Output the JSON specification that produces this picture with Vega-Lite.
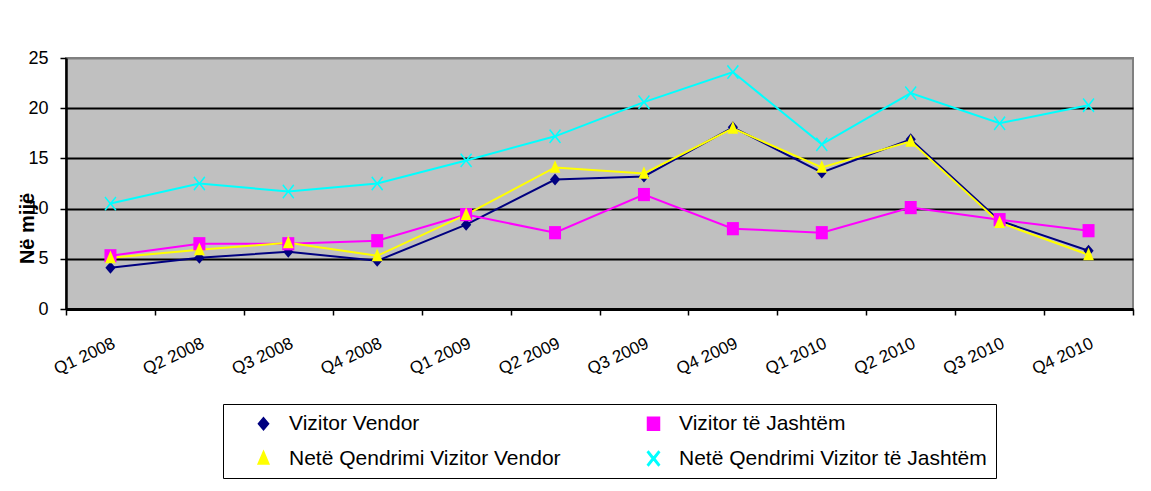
{
  "$schema": "https://vega.github.io/schema/vega-lite/v6.json",
  "width": 1067,
  "height": 251,
  "autosize": {"type": "none"},
  "padding": {"left": 66, "top": 58, "right": 18, "bottom": 182},
  "background": "white",
  "config": {"view": {"fill": "#C0C0C0", "stroke": "#808080", "strokeWidth": 2}, "font": "Liberation Sans"},
  "data": {"values": [
    {"q": "Q1 2008", "s": "Vizitor Vendor", "v": 4.1},
    {"q": "Q2 2008", "s": "Vizitor Vendor", "v": 5.1},
    {"q": "Q3 2008", "s": "Vizitor Vendor", "v": 5.7},
    {"q": "Q4 2008", "s": "Vizitor Vendor", "v": 4.8},
    {"q": "Q1 2009", "s": "Vizitor Vendor", "v": 8.4},
    {"q": "Q2 2009", "s": "Vizitor Vendor", "v": 12.9},
    {"q": "Q3 2009", "s": "Vizitor Vendor", "v": 13.2},
    {"q": "Q4 2009", "s": "Vizitor Vendor", "v": 18.1},
    {"q": "Q1 2010", "s": "Vizitor Vendor", "v": 13.6},
    {"q": "Q2 2010", "s": "Vizitor Vendor", "v": 16.9},
    {"q": "Q3 2010", "s": "Vizitor Vendor", "v": 8.8},
    {"q": "Q4 2010", "s": "Vizitor Vendor", "v": 5.8},
    {"q": "Q1 2008", "s": "Vizitor të Jashtëm", "v": 5.3},
    {"q": "Q2 2008", "s": "Vizitor të Jashtëm", "v": 6.5},
    {"q": "Q3 2008", "s": "Vizitor të Jashtëm", "v": 6.5},
    {"q": "Q4 2008", "s": "Vizitor të Jashtëm", "v": 6.8},
    {"q": "Q1 2009", "s": "Vizitor të Jashtëm", "v": 9.4},
    {"q": "Q2 2009", "s": "Vizitor të Jashtëm", "v": 7.6},
    {"q": "Q3 2009", "s": "Vizitor të Jashtëm", "v": 11.4},
    {"q": "Q4 2009", "s": "Vizitor të Jashtëm", "v": 8.0},
    {"q": "Q1 2010", "s": "Vizitor të Jashtëm", "v": 7.6},
    {"q": "Q2 2010", "s": "Vizitor të Jashtëm", "v": 10.1},
    {"q": "Q3 2010", "s": "Vizitor të Jashtëm", "v": 8.9},
    {"q": "Q4 2010", "s": "Vizitor të Jashtëm", "v": 7.8},
    {"q": "Q1 2008", "s": "Netë Qendrimi Vizitor Vendor", "v": 5.1},
    {"q": "Q2 2008", "s": "Netë Qendrimi Vizitor Vendor", "v": 5.9},
    {"q": "Q3 2008", "s": "Netë Qendrimi Vizitor Vendor", "v": 6.6},
    {"q": "Q4 2008", "s": "Netë Qendrimi Vizitor Vendor", "v": 5.3},
    {"q": "Q1 2009", "s": "Netë Qendrimi Vizitor Vendor", "v": 9.4},
    {"q": "Q2 2009", "s": "Netë Qendrimi Vizitor Vendor", "v": 14.1},
    {"q": "Q3 2009", "s": "Netë Qendrimi Vizitor Vendor", "v": 13.5},
    {"q": "Q4 2009", "s": "Netë Qendrimi Vizitor Vendor", "v": 18.0},
    {"q": "Q1 2010", "s": "Netë Qendrimi Vizitor Vendor", "v": 14.1},
    {"q": "Q2 2010", "s": "Netë Qendrimi Vizitor Vendor", "v": 16.7},
    {"q": "Q3 2010", "s": "Netë Qendrimi Vizitor Vendor", "v": 8.6},
    {"q": "Q4 2010", "s": "Netë Qendrimi Vizitor Vendor", "v": 5.4},
    {"q": "Q1 2008", "s": "Netë Qendrimi Vizitor të Jashtëm", "v": 10.5},
    {"q": "Q2 2008", "s": "Netë Qendrimi Vizitor të Jashtëm", "v": 12.5},
    {"q": "Q3 2008", "s": "Netë Qendrimi Vizitor të Jashtëm", "v": 11.7},
    {"q": "Q4 2008", "s": "Netë Qendrimi Vizitor të Jashtëm", "v": 12.5},
    {"q": "Q1 2009", "s": "Netë Qendrimi Vizitor të Jashtëm", "v": 14.8},
    {"q": "Q2 2009", "s": "Netë Qendrimi Vizitor të Jashtëm", "v": 17.2},
    {"q": "Q3 2009", "s": "Netë Qendrimi Vizitor të Jashtëm", "v": 20.6},
    {"q": "Q4 2009", "s": "Netë Qendrimi Vizitor të Jashtëm", "v": 23.6},
    {"q": "Q1 2010", "s": "Netë Qendrimi Vizitor të Jashtëm", "v": 16.4},
    {"q": "Q2 2010", "s": "Netë Qendrimi Vizitor të Jashtëm", "v": 21.5},
    {"q": "Q3 2010", "s": "Netë Qendrimi Vizitor të Jashtëm", "v": 18.5},
    {"q": "Q4 2010", "s": "Netë Qendrimi Vizitor të Jashtëm", "v": 20.3}
  ]},
  "transform": [{"calculate": "datum.s", "as": "mk"}],
  "mark": {"type": "line", "strokeWidth": 2, "point": {"filled": true, "size": 144, "opacity": 1}},
  "encoding": {
    "x": {
      "field": "q", "type": "nominal", "sort": null,
      "scale": {"type": "band", "paddingInner": 0, "paddingOuter": 0},
      "axis": {
        "title": null, "labelAngle": -25, "labelAlign": "right", "labelBaseline": "top",
        "labelFont": "Liberation Sans", "labelFontSize": 17, "labelColor": "black",
        "labelPadding": 20, "tickBand": "extent", "tickSize": 6, "tickColor": "black", "tickWidth": 1.5,
        "domainColor": "black", "domainWidth": 3, "grid": false
      }
    },
    "y": {
      "field": "v", "type": "quantitative",
      "scale": {"domain": [0, 25], "nice": false},
      "axis": {
        "values": [0, 5, 10, 15, 20, 25],
        "grid": true,
        "gridColor": {"condition": {"test": "datum.value === 25", "value": "#808080"}, "value": "black"},
        "gridWidth": 2, "gridOpacity": 1,
        "domainColor": "black", "domainWidth": 2.5,
        "tickColor": "black", "tickSize": 6, "tickWidth": 1.5,
        "labelFont": "Liberation Sans", "labelFontSize": 18, "labelColor": "black", "labelPadding": 12,
        "title": "Në mijë", "titleFont": "Liberation Sans", "titleFontWeight": "bold", "titleFontSize": 20,
        "titleColor": "black", "titleX": -33, "titleY": 170, "titleAlign": "center", "titleBaseline": "alphabetic", "titleAngle": -90
      }
    },
    "color": {
      "field": "s", "type": "nominal",
      "scale": {
        "domain": ["Vizitor Vendor", "Vizitor të Jashtëm", "Netë Qendrimi Vizitor Vendor", "Netë Qendrimi Vizitor të Jashtëm"],
        "range": ["#000080", "#FF00FF", "#FFFF00", "#00FFFF"]
      },
      "legend": {
        "orient": "none", "legendX": 157, "legendY": 346, "direction": "horizontal", "columns": 2,
        "title": null, "labelFont": "Liberation Sans", "labelFontSize": 21, "labelColor": "black", "labelLimit": 500,
        "padding": 9, "rowPadding": 13, "columnPadding": 61, "symbolOffset": 21, "labelOffset": 15,
        "symbolSize": 144, "strokeColor": "black", "fillColor": "white"
      }
    },
    "shape": {
      "field": "mk", "type": "nominal",
      "scale": {
        "domain": ["Vizitor Vendor", "Vizitor të Jashtëm", "Netë Qendrimi Vizitor Vendor", "Netë Qendrimi Vizitor të Jashtëm"],
        "range": [
          "M0,-1L0.85,0L0,1L-0.85,0Z",
          "M-1,-1.1L1,-1.1L1,1.1L-1,1.1Z",
          "M0,-1.2L0.9,0.9L-0.9,0.9Z",
          "M-1,-1.02L-0.82,-1.2L0,-0.18L0.82,-1.2L1,-1.02L0.2,0L1,1.02L0.82,1.2L0,0.18L-0.82,1.2L-1,1.02L-0.2,0Z"
        ]
      },
      "legend": null
    }
  }
}
